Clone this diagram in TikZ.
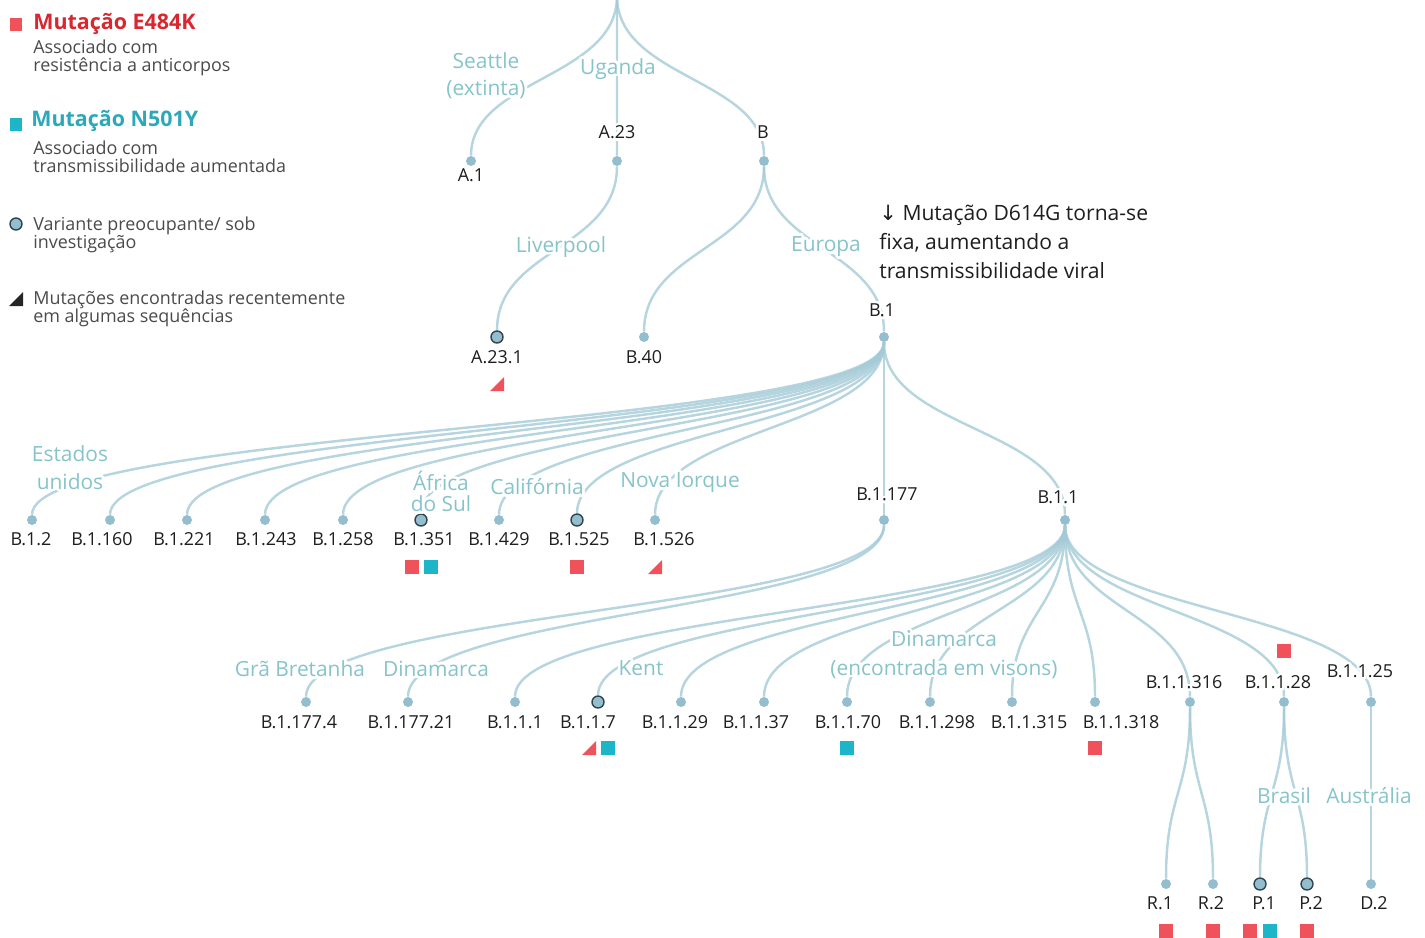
\documentclass[tikz,border=0pt]{standalone}
\usepackage{fontspec}
\setmainfont{Open Sans}
\newfontfamily\arrowfont{DejaVu Sans}
\usepackage{contour}
\contourlength{1.6pt}
\contournumber{16}
\usetikzlibrary{calc, backgrounds, positioning}

\definecolor{linkblue}{HTML}{A4CAD7}
\definecolor{dotblue}{HTML}{94BDCE}
\definecolor{vocline}{HTML}{2F4450}
\definecolor{placeteal}{HTML}{86C4CB}
\definecolor{labelblack}{HTML}{1E1E1E}
\definecolor{legendgray}{HTML}{4A4A4A}
\definecolor{redsq}{HTML}{F0525B}
\definecolor{redtitle}{HTML}{D9262F}
\definecolor{tealsq}{HTML}{1DB6C9}
\definecolor{tealtitle}{HTML}{2DA8B8}

\newcommand{\knock}[1]{\contour{white}{#1}}

\begin{document}
\begin{tikzpicture}[x=0.02cm, y=-0.02cm]
        \tikzstyle{dot} = [circle, fill=dotblue, inner sep=0, minimum size=2mm]
        \tikzstyle{voc} = [dot, draw=vocline, line width=0.8pt, minimum size=2.4mm]
        \tikzstyle{link} = [draw=linkblue, draw opacity=0.8, line width=1.4pt, to path={.. controls ($(\tikztostart)!.5!(\tikztostart |- \tikztotarget)$) and ($(\tikztotarget)!.5!(\tikztotarget |- \tikztostart)$) .. (\tikztotarget)}]
        \tikzstyle{lbl} = [font=\fontsize{10.2}{12}\selectfont, text=labelblack, inner sep=0]
        \tikzstyle{place} = [font=\fontsize{11.9}{15.5}\selectfont, text=placeteal, align=center, inner sep=0]
        \tikzstyle{legtext} = [anchor=west, align=left, font=\fontsize{10.2}{10.4}\selectfont, text=legendgray, inner sep=0]
        \tikzstyle{e484} = [fill=redsq, inner sep=0, minimum size=2.8mm]
        \tikzstyle{n501} = [fill=tealsq, inner sep=0, minimum size=2.8mm]
        \tikzset{tri/.pic={\fill (-7,7) -- (7,7) -- (7,-7) -- cycle;}}
        \useasboundingbox (0,0) rectangle (1425,937);

        % legend
        \node[e484, minimum size=2.6mm] (leg-e) at (16,24) {};
        \node[anchor=west, inner sep=0, text=redtitle, font=\fontsize{12.2}{14}\selectfont\bfseries] (leg-e-t) at (33,24) {Mutação E484K};
        \node[legtext] (leg-e-d) at (33,58) {Associado com\\resistência a anticorpos};
        \node[n501, minimum size=2.6mm] (leg-n) at (16,124) {};
        \node[anchor=west, inner sep=0, text=tealtitle, font=\fontsize{12.2}{14}\selectfont\bfseries] (leg-n-t) at (31,121) {Mutação N501Y};
        \node[legtext] (leg-n-d) at (33,157) {Associado com\\transmissibilidade aumentada};
        \node[voc] (leg-v) at (16,224) {};
        \node[legtext] (leg-v-d) at (33,235) {Variante preocupante/ sob\\investigação};
        \pic[fill=black!85] at (16,299) {tri};
        \node[legtext] (leg-t-d) at (33,309) {Mutações encontradas recentemente\\em algumas sequências};

        % lineages
        \coordinate (root) at (617,-4);
        \node[dot] (a1) at (471,161) {};
        \node[dot] (a23) at (617,161) {};
        \node[dot] (b) at (764,161) {};
        \node[voc] (a231) at (497,337) {};
        \node[dot] (b40) at (644,337) {};
        \node[dot] (b1) at (884,337) {};
        \node[dot] (b12) at (32,520) {};
        \node[dot] (b1160) at (110,520) {};
        \node[dot] (b1221) at (187,520) {};
        \node[dot] (b1243) at (265,520) {};
        \node[dot] (b1258) at (343,520) {};
        \node[voc] (b1351) at (421,520) {};
        \node[dot] (b1429) at (499,520) {};
        \node[voc] (b1525) at (577,520) {};
        \node[dot] (b1526) at (655,520) {};
        \node[dot] (b1177) at (884,520) {};
        \node[dot] (b11) at (1065,520) {};
        \node[dot] (b11774) at (306,702) {};
        \node[dot] (b117721) at (408,702) {};
        \node[dot] (b111) at (515,702) {};
        \node[voc] (b117) at (598,702) {};
        \node[dot] (b1129) at (681,702) {};
        \node[dot] (b1137) at (764,702) {};
        \node[dot] (b1170) at (847,702) {};
        \node[dot] (b11298) at (930,702) {};
        \node[dot] (b11315) at (1012,702) {};
        \node[dot] (b11318) at (1095,702) {};
        \node[dot] (b11316) at (1190,702) {};
        \node[dot] (b1128) at (1284,702) {};
        \node[dot] (b1125) at (1371,702) {};
        \node[dot] (r1) at (1166,884) {};
        \node[dot] (r2) at (1213,884) {};
        \node[voc] (p1) at (1260,884) {};
        \node[voc] (p2) at (1307,884) {};
        \node[dot] (d2) at (1371,884) {};

        % lineage names
        \node[lbl] (n-a1) at (471,177) {\knock{A.1}};
        \node[lbl] (n-a23) at (617,134) {\knock{A.23}};
        \node[lbl] (n-b) at (763,134) {\knock{B}};
        \node[lbl] (n-a231) at (497,359) {\knock{A.23.1}};
        \node[lbl] (n-b40) at (644,359) {\knock{B.40}};
        \node[lbl] (n-b1) at (882,312) {\knock{B.1}};
        \node[lbl] (n-b12) at (31,541) {\knock{B.1.2}};
        \node[lbl] (n-b1160) at (102,541) {\knock{B.1.160}};
        \node[lbl] (n-b1221) at (184,541) {\knock{B.1.221}};
        \node[lbl] (n-b1243) at (266,541) {\knock{B.1.243}};
        \node[lbl] (n-b1258) at (343,541) {\knock{B.1.258}};
        \node[lbl] (n-b1351) at (424,541) {\knock{B.1.351}};
        \node[lbl] (n-b1429) at (499,541) {\knock{B.1.429}};
        \node[lbl] (n-b1525) at (579,541) {\knock{B.1.525}};
        \node[lbl] (n-b1526) at (664,541) {\knock{B.1.526}};
        \node[lbl] (n-b1177) at (887,496) {\knock{B.1.177}};
        \node[lbl] (n-b11) at (1058,499) {\knock{B.1.1}};
        \node[lbl] (n-b11774) at (299,724) {\knock{B.1.177.4}};
        \node[lbl] (n-b117721) at (411,724) {\knock{B.1.177.21}};
        \node[lbl] (n-b111) at (515,724) {\knock{B.1.1.1}};
        \node[lbl] (n-b117) at (588,724) {\knock{B.1.1.7}};
        \node[lbl] (n-b1129) at (675,724) {\knock{B.1.1.29}};
        \node[lbl] (n-b1137) at (756,724) {\knock{B.1.1.37}};
        \node[lbl] (n-b1170) at (848,724) {\knock{B.1.1.70}};
        \node[lbl] (n-b11298) at (937,724) {\knock{B.1.1.298}};
        \node[lbl] (n-b11315) at (1029,724) {\knock{B.1.1.315}};
        \node[lbl] (n-b11318) at (1121,724) {\knock{B.1.1.318}};
        \node[lbl] (n-b11316) at (1184,684) {\knock{B.1.1.316}};
        \node[lbl] (n-b1128) at (1278,684) {\knock{B.1.1.28}};
        \node[lbl] (n-b1125) at (1360,673) {\knock{B.1.1.25}};
        \node[lbl] (n-r1) at (1160,905) {\knock{R.1}};
        \node[lbl] (n-r2) at (1211,905) {\knock{R.2}};
        \node[lbl] (n-p1) at (1264,905) {\knock{P.1}};
        \node[lbl] (n-p2) at (1311,905) {\knock{P.2}};
        \node[lbl] (n-d2) at (1374,905) {\knock{D.2}};

        % places
        \node[place] (seattle) at (486,77) {\knock{Seattle}\\\knock{(extinta)}};
        \node[place] (uganda) at (618,70) {\knock{Uganda}};
        \node[place] (liverpool) at (561,248) {\knock{Liverpool}};
        \node[place] (europa) at (826,248) {\knock{Europa}};
        \node[place] (eua) at (70,469) {\knock{Estados}\\\knock{unidos}};
        \node[place, font=\fontsize{11.9}{10.5}\selectfont] (africa) at (441,493) {\knock{África}\\\knock{do Sul}};
        \node[place] (california) at (537,488) {\knock{Califórnia}};
        \node[place] (novaiorque) at (680,484) {\knock{Nova Iorque}};
        \node[place] (grabretanha) at (300,670) {\knock{Grã Bretanha}};
        \node[place] (dinamarca) at (436,670) {\knock{Dinamarca}};
        \node[place] (kent) at (641,670) {\knock{Kent}};
        \node[place, font=\fontsize{11.9}{16.4}\selectfont] (visons) at (944,656) {\knock{Dinamarca}\\\knock{(encontrada em visons)}};
        \node[place] (brasil) at (1284,797) {\knock{Brasil}};
        \node[place] (australia) at (1369,797) {\knock{Austrália}};

        \node[anchor=north west, align=left, inner sep=0, text=labelblack, font=\fontsize{12}{16.4}\selectfont] (d614g) at (879,205) {{\arrowfont ↓} Mutação D614G torna-se\\fixa, aumentando a\\transmissibilidade viral};

        % mutations
        \pic[fill=redsq] at (497,384) {tri};
        \node[e484] (m-b1351-e) at (412,567) {};
        \node[n501] (m-b1351-n) at (431,567) {};
        \node[e484] (m-b1525-e) at (577,567) {};
        \pic[fill=redsq] at (655,567) {tri};
        \pic[fill=redsq] at (589,748) {tri};
        \node[n501] (m-b117-n) at (608,748) {};
        \node[n501] (m-b1170-n) at (847,748) {};
        \node[e484] (m-b11318-e) at (1095,748) {};
        \node[e484] (m-b1128-e) at (1284,651) {};
        \node[e484] (m-r1-e) at (1166,931) {};
        \node[e484] (m-r2-e) at (1213,931) {};
        \node[e484] (m-p1-e) at (1250,931) {};
        \node[n501] (m-p1-n) at (1270,931) {};
        \node[e484] (m-p2-e) at (1307,931) {};

        \begin{scope}[on background layer]
        \path (root) edge [link] (a1) edge [link] (a23) edge [link] (b);
        \path (a23) edge [link] (a231);
        \path (b) edge [link] (b40) edge [link] (b1);
        \path (b1) edge [link] (b12) edge [link] (b1160) edge [link] (b1221) edge [link] (b1243) edge [link] (b1258) edge [link] (b1351) edge [link] (b1429) edge [link] (b1525) edge [link] (b1526) edge [link] (b1177) edge [link] (b11);
        \path (b1177) edge [link] (b11774) edge [link] (b117721);
        \path (b11) edge [link] (b111) edge [link] (b117) edge [link] (b1129) edge [link] (b1137) edge [link] (b1170) edge [link] (b11298) edge [link] (b11315) edge [link] (b11318) edge [link] (b11316) edge [link] (b1128) edge [link] (b1125);
        \path (b11316) edge [link] (r1) edge [link] (r2);
        \path (b1128) edge [link] (p1) edge [link] (p2);
        \path (b1125) edge [link] (d2);
        \end{scope}
\end{tikzpicture}
\end{document}
